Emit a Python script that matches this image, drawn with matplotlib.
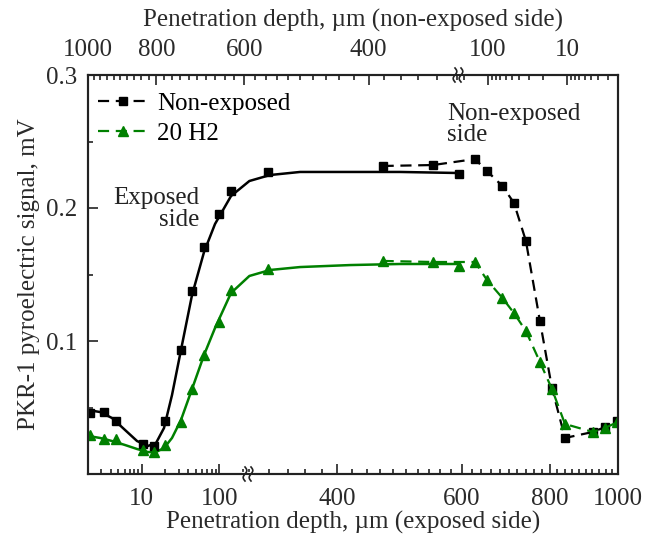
import numpy as np
import matplotlib
matplotlib.use("Agg")
import matplotlib.pyplot as plt
from matplotlib.ticker import FixedLocator, NullFormatter, FixedFormatter

plt.rcParams["font.family"] = ["Liberation Serif", "DejaVu Serif"]
plt.rcParams["font.size"] = 18

GREEN = "#008000"

# exposed side points (depth from exposed surface, um)
exp_depth = [2.15, 3.26, 4.66, 10.4, 14.4, 20.0, 32.1, 44.6, 63.7, 99.3, 142, 319, 595]
exp_black = [0.0459, 0.0466, 0.0398, 0.0226, 0.0211, 0.0398, 0.0932, 0.1376,
             0.1707, 0.1955, 0.2128, 0.2271, 0.2256]
exp_green = [0.0293, 0.0263, 0.0263, 0.0180, 0.0165, 0.0220, 0.0390, 0.0639,
             0.0895, 0.1143, 0.1383, 0.1541, 0.1564]

# non-exposed side points (depth from non-exposed surface, um)
nexp_depth = [382, 324, 146, 103, 65.6, 46.9, 33.1, 22.0, 15.5, 10.6, 4.7, 3.3, 2.3]
nexp_black = [0.2316, 0.2323, 0.2368, 0.2278, 0.2165, 0.2038, 0.1752, 0.1150,
              0.0647, 0.0271, 0.0316, 0.0353, 0.0398]
nexp_green = [0.1602, 0.1594, 0.1594, 0.1459, 0.1323, 0.1210, 0.1075, 0.0842,
              0.0639, 0.0376, 0.0316, 0.0346, 0.0390]

# fitted curves on the exposed side
fit_depth = [2.03, 2.9, 4.14, 6.09, 8.7, 12.06, 15.3, 19.4, 24.6, 32.1, 44.6,
             63.7, 88.3, 142, 300, 321, 354, 417, 491, 595]
fit_black = [0.0481, 0.0466, 0.0421, 0.0331, 0.0248, 0.0211, 0.0233, 0.0346,
             0.0594, 0.0932, 0.1346, 0.1669, 0.1880, 0.2090, 0.2203, 0.2248,
             0.2271, 0.2271, 0.2271, 0.2263]
fit_green = [0.0286, 0.0271, 0.0248, 0.0218, 0.0188, 0.0165, 0.0165, 0.0195,
             0.0271, 0.0406, 0.0639, 0.0895, 0.1098, 0.1361, 0.1489, 0.1534,
             0.1556, 0.1571, 0.1579, 0.1579]

bottom_major = [10, 100, 400, 600, 800, 1000]
top_major = [1000, 800, 600, 400, 100, 10]
y_major = [0.1, 0.2, 0.3]


# broken axis: log near each surface, log stretch in the middle
def bottom_fwd(d):
    d = np.clip(np.asarray(d, float), 1e-3, None)
    near = 141.7 + 77.5 * np.log10(d / 10)
    far = 618 + 705 * np.log10(d / 1000)
    return np.where(near <= 248, near, np.where(far >= 248, far, 248.0))


def bottom_inv(p):
    p = np.asarray(p, float)
    return np.where(p <= 248, 10 * 10 ** ((p - 141.7) / 77.5),
                    1000 * 10 ** ((p - 618) / 705))


def top_fwd(d):
    d = np.clip(np.asarray(d, float), 1e-3, None)
    far = 88 + 705 * np.log10(1000 / d)
    near = 567 + 79 * np.log10(10 / d)
    p = np.where(far <= 458, far, np.where(near >= 458, near, 458.0))
    return -p


def top_inv(q):
    p = -np.asarray(q, float)
    return np.where(p <= 458, 1000 * 10 ** (-(p - 88) / 705),
                    10 * 10 ** ((567 - p) / 79))


def draw_break(ax, xf, yf):
    t = np.linspace(-1, 1, 40)
    ax.plot([xf - 4 / 530, xf + 4 / 530], [yf, yf], color="white", lw=3,
            transform=ax.transAxes, clip_on=False, zorder=10)
    for dx in (-3.0, 3.0):
        xs = xf + (dx + 1.8 * np.sin(np.pi * t)) / 530
        ys = yf + 7 * t / 399
        ax.plot(xs, ys, color="#222222", lw=1.2, transform=ax.transAxes,
                clip_on=False, zorder=11)


fig = plt.figure(figsize=(6.58, 5.38), dpi=100)
ax = fig.add_axes([88 / 658, 1 - 474 / 538, 530 / 658, 399 / 538])
ax.set_xscale("function", functions=(bottom_fwd, bottom_inv))
ax.set_xlim(2.027, 1000)
ax.set_ylim(0, 0.3)

ax2 = ax.twiny()
ax2.set_xscale("function", functions=(top_fwd, top_inv))
ax2.set_xlim(1000, 2.26)

# exposed side: markers + smooth fitted line
ax.plot(fit_depth, fit_black, color="black", lw=1.8, zorder=3)
ax.plot(fit_depth, fit_green, color=GREEN, lw=1.8, zorder=3)
ax.plot(exp_depth, exp_black, "s", color="black", ms=6, zorder=4)
ax.plot(exp_depth, exp_green, "^", color=GREEN, ms=7, zorder=4)

# non-exposed side: dashed lines
l1, = ax2.plot(nexp_depth, nexp_black, "s", ls=(0, (5, 3)), color="black",
               lw=1.6, ms=6, label="Non-exposed")
l2, = ax2.plot(nexp_depth, nexp_green, "^", ls=(0, (5, 3)), color=GREEN,
               lw=1.6, ms=7, label="20 H2")

# ticks
bottom_minor = ([3, 4, 5, 6, 7, 8, 9] + list(range(20, 100, 10)) + [200]
                + [v for v in range(300, 1000, 20) if v not in bottom_major])
top_minor = ([v for v in range(300, 1000, 20) if v not in top_major]
             + [200] + list(range(20, 100, 10)) + [3, 4, 5, 6, 7, 8, 9])

ax.xaxis.set_major_locator(FixedLocator(bottom_major))
ax.xaxis.set_major_formatter(FixedFormatter([str(v) for v in bottom_major]))
ax.xaxis.set_minor_locator(FixedLocator(bottom_minor))
ax.xaxis.set_minor_formatter(NullFormatter())

ax2.xaxis.set_major_locator(FixedLocator(top_major))
ax2.xaxis.set_major_formatter(FixedFormatter([str(v) for v in top_major]))
ax2.xaxis.set_minor_locator(FixedLocator(top_minor))
ax2.xaxis.set_minor_formatter(NullFormatter())

ax.set_yticks(y_major)
ax.set_yticklabels([f"{v:.1f}" for v in y_major])
ax.set_yticks([0.05, 0.15, 0.25], minor=True)

for a in (ax, ax2):
    for s in a.spines.values():
        s.set_linewidth(1.5)
        s.set_color("#222222")
ax.tick_params(which="both", direction="in", top=False, right=False,
               width=1.2, colors="#222222", labelcolor="#2a2a2a")
ax.tick_params(axis="x", which="major", length=7, pad=10)
ax.tick_params(axis="y", which="major", length=7, pad=8)
ax.tick_params(which="minor", length=3.5)
ax2.tick_params(which="both", direction="in", width=1.2, colors="#222222",
                labelcolor="#2a2a2a")
ax2.tick_params(which="major", length=7, pad=10)
ax2.tick_params(which="minor", length=3.5)

ax.set_xlabel("Penetration depth, µm (exposed side)", color="#2a2a2a", labelpad=1)
ax2.set_xlabel("Penetration depth, µm (non-exposed side)", color="#2a2a2a", labelpad=9)
ax.set_ylabel("PKR-1 pyroelectric signal, mV", color="#2a2a2a", labelpad=4)

draw_break(ax, (248 - 88) / 530, 0.0)
draw_break(ax, (458 - 88) / 530, 1.0)

ax.text(0.211, 0.664, "Exposed\nside", transform=ax.transAxes, ha="right",
        va="center", linespacing=0.95, color="#222222")
ax.text(0.677, 0.877, "Non-exposed\nside", transform=ax.transAxes, ha="left",
        va="center", linespacing=0.95, color="#222222")

ax2.legend(handles=[l1, l2], loc="upper left", bbox_to_anchor=(0.0, 0.982),
           frameon=False, handlelength=2.0, handletextpad=0.35,
           borderaxespad=0.0, borderpad=0.4, labelspacing=0.3, numpoints=1)

fig.savefig("out.png", dpi=100)
